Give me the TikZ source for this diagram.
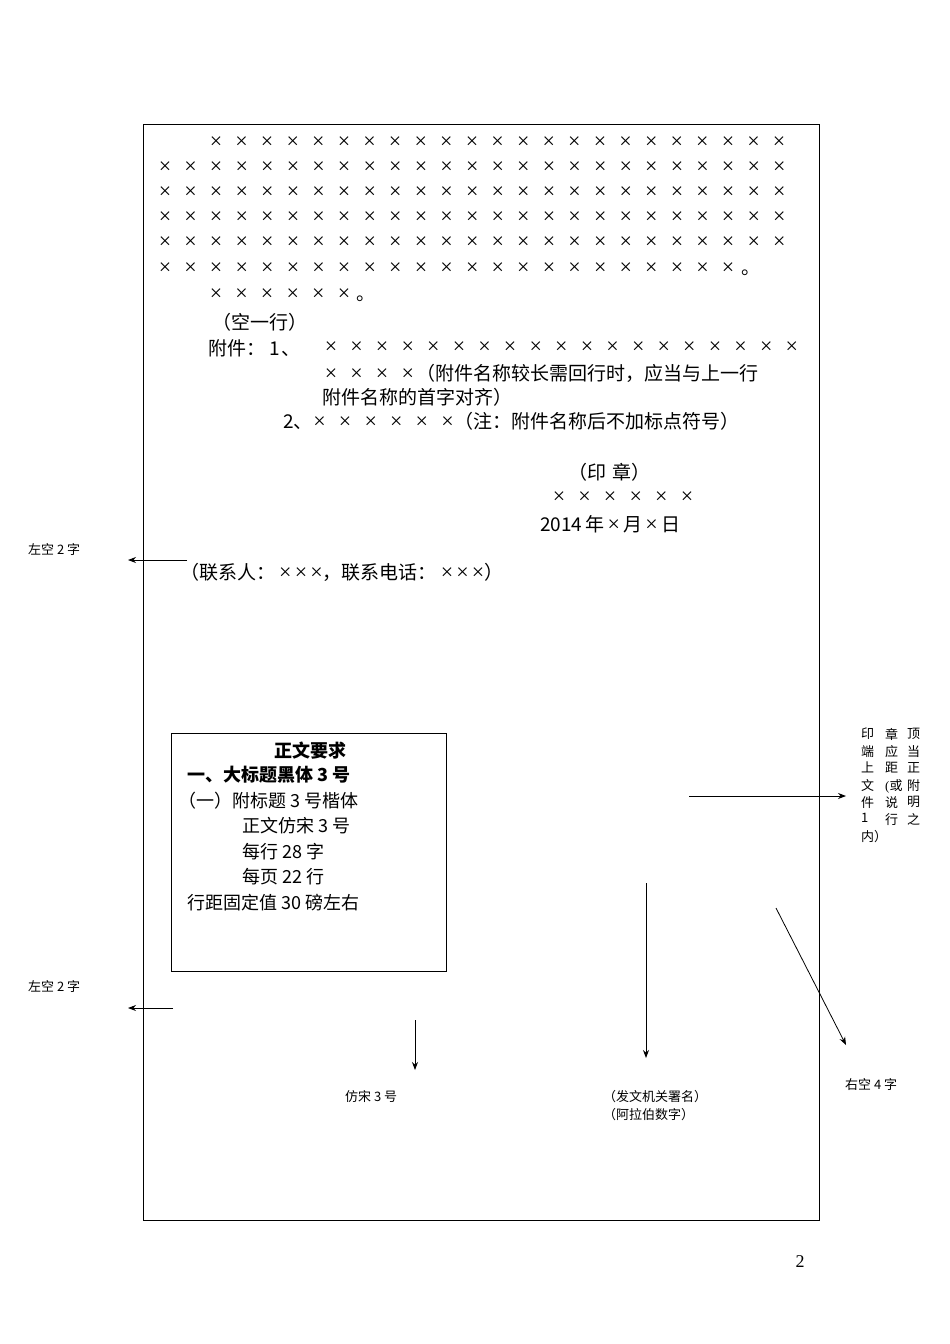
\documentclass[tikz,border=0pt]{standalone}
\usepackage{fontspec}
\setmainfont{Liberation Serif}
\newfontfamily\cjk{Noto Sans CJK SC}
\usetikzlibrary{arrows.meta}
\newcommand\xc{{\rmfamily\fontsize{22}{22}\selectfont ×}}
\newcommand\xx[1]{\foreach \i in {1,...,#1}{\makebox[25.6pt]{\xc}}}
\begin{document}
\begin{tikzpicture}[x=1pt,y=-1pt,
  big/.style={anchor=west,inner sep=0pt,font=\cjk\fontsize{19}{19}\selectfont},
  box/.style={anchor=west,inner sep=0pt,font=\cjk\fontsize{18}{18}\selectfont},
  small/.style={anchor=west,inner sep=0pt,font=\cjk\fontsize{13}{13}\selectfont},
  arr/.style={-{Stealth[length=8pt,width=6pt]},line width=0.8pt}]
\fill[white] (0,0) rectangle (950,1344);
\draw[line width=0.8pt] (143,124) rectangle (819,1220);
\node[big] (r1) at (203,143) {\xx{23}};
\foreach \y/\n in {168/r2,193/r3,218/r4,243/r5}{\node[big] (\n) at (152,\y) {\xx{25}};}
\node[big] (r6) at (152,269) {\xx{23}。};
\node[big] (r7) at (203,295) {\xx{6}。};
\node[big] (k) at (212,322) {（空一行）};
\node[big] (f1) at (208,348) {附件：\hspace{4pt}1\hspace{2pt}、};
\node[big] (f1x) at (318,348) {\xx{19}};
\node[big] (f2) at (318,373) {\xx{4}\hspace{-4pt}（附件名称较长需回行时，应当与上一行};
\node[big] (f3) at (322,397) {附件名称的首字对齐）};
\node[big] (f4) at (283,421) {2、\hspace{-6pt}\xx{6}\hspace{-6pt}（注：附件名称后不加标点符号）};
\node[big] (yz) at (568,472) {（印\hspace{6pt}章）};
\node[big] (sx) at (546,498) {\xx{6}};
\node[big] (dt) at (540,524) {2014\,年\,\xc\,月\,\xc\,日};
\node[big] (lx) at (180,572) {（联系人：\hspace{4pt}\xc\,\xc\,\xc，联系电话：\hspace{4pt}\xc\,\xc\,\xc）};
\node[small] (l1) at (28,550) {左空 2 字};
\coordinate (a1s) at (187,560); \coordinate (a1e) at (128,560);
\draw[arr] (a1s) -- (a1e);
\node[small] (l2) at (28,986) {左空 2 字};
\coordinate (a2s) at (173,1008); \coordinate (a2e) at (128,1008);
\draw[arr] (a2s) -- (a2e);
\draw[line width=1pt] (171,733) rectangle (446,971);
\node[box,anchor=center,font=\cjk\bfseries\fontsize{18}{18}\selectfont] (t0) at (310,751) {正文要求};
\node[box,font=\cjk\bfseries\fontsize{18}{18}\selectfont] (t1) at (187,775) {一、大标题黑体 3 号};
\node[box] (t2) at (178,801) {（一）附标题 3 号楷体};
\node[box] (t3) at (242,826) {正文仿宋 3 号};
\node[box] (t4) at (242,852) {每行 28 字};
\node[box] (t5) at (242,877) {每页 22 行};
\node[box] (t6) at (187,903) {行距固定值 30 磅左右};
\coordinate (a3s) at (415,1020); \coordinate (a3e) at (415,1070);
\draw[arr] (a3s) -- (a3e);
\node[small] (fs) at (345,1097) {仿宋 3 号};
\coordinate (a4s) at (646,883); \coordinate (a4e) at (646,1058);
\draw[arr] (a4s) -- (a4e);
\node[small] (fw) at (603,1097) {（发文机关署名）};
\node[small] (al) at (603,1115) {（阿拉伯数字）};
\coordinate (a5s) at (776,908); \coordinate (a5e) at (846,1045);
\draw[arr] (a5s) -- (a5e);
\node[small] (rk) at (845,1085) {右空 4 字};
\coordinate (a6s) at (689,796); \coordinate (a6e) at (846,796);
\draw[arr] (a6s) -- (a6e);
\foreach \c [count=\k] in {印,端,上,文,件,1,内）}{\node[small,anchor=north west] (va\k) at (861,728+17*\k-17) {\c};}
\foreach \c [count=\k] in {章,应,距,{\rmfamily(}或,说,行}{\node[small,anchor=north west] (vb\k) at (885,728+17*\k-17) {\c};}
\foreach \c [count=\k] in {顶,当,正,附,明,之}{\node[small,anchor=north west] (vc\k) at (907,728+17*\k-17) {\c};}
\node[inner sep=0pt,font=\fontsize{18}{18}\selectfont] (pg) at (800,1262) {2};
\end{tikzpicture}
\end{document}
